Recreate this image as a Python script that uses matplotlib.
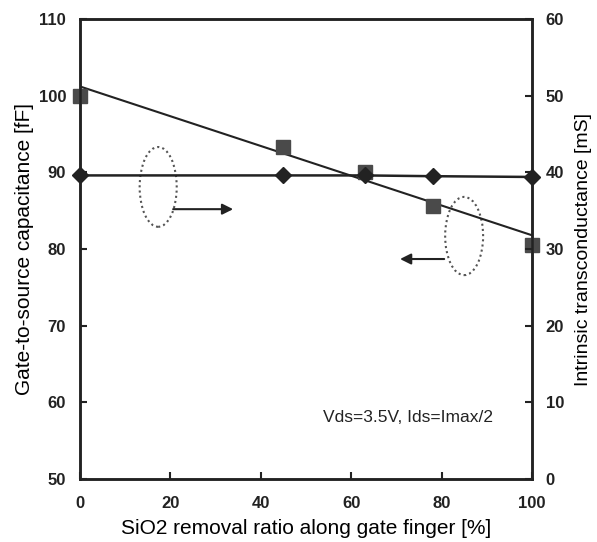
import numpy as np
import matplotlib
matplotlib.use("Agg")
import matplotlib.pyplot as plt
from matplotlib.patches import Ellipse

plt.rcParams['font.family'] = ['Liberation Sans', 'DejaVu Sans']

# data
removal = [0, 45, 63, 78, 100]          # SiO2 removal ratio [%]
cgs = [100.0, 93.3, 90.0, 85.6, 80.5]   # gate-to-source capacitance [fF]
gm = [39.6, 39.6, 39.6, 39.5, 39.4]     # intrinsic transconductance [mS]
fit_x = [0, 100]
fit_cgs = [101.2, 81.8]
x_ticks = [0, 20, 40, 60, 80, 100]

fig = plt.figure(figsize=(5.97, 5.42), dpi=100)
ax = fig.add_axes([0.134, 0.116, 0.757, 0.849])
ax2 = ax.twinx()

ax.plot(fit_x, fit_cgs, color='#222222', lw=1.5, zorder=3)
ax.plot(removal, cgs, ls='none', marker='s', ms=9.5, color='#4a4a4a', zorder=4, clip_on=False)
ax2.plot(removal, gm, color='#222222', lw=1.8, marker='D', ms=8, mfc='#222222', mec='#222222', zorder=4, clip_on=False)

ax.set_xlim(0, 100)
ax.set_ylim(50, 110)
ax2.set_ylim(0, 60)
ax.set_xticks(x_ticks)
ax.set_yticks(np.arange(50, 111, 10))
ax2.set_yticks(np.arange(0, 61, 10))

for a in (ax, ax2):
    for s in a.spines.values():
        s.set_linewidth(1.8)
        s.set_color('#222222')
ax.tick_params(axis='x', direction='in', length=5, width=1.5, labelsize=12, pad=12, colors='#222222')
ax.tick_params(axis='y', direction='in', length=5, width=1.5, labelsize=12, pad=10, colors='#222222')
ax2.tick_params(axis='y', direction='in', length=5, width=1.5, labelsize=12, pad=10, colors='#222222')
for lab in ax.get_xticklabels() + ax.get_yticklabels() + ax2.get_yticklabels():
    lab.set_fontweight('bold')

ax.set_xlabel('SiO2 removal ratio along gate finger [%]', fontsize=15, labelpad=6)
ax.set_ylabel('Gate-to-source capacitance [fF]', fontsize=15, labelpad=3)
ax2.set_ylabel('Intrinsic transconductance [mS]', fontsize=14, labelpad=8)

# dotted ellipses with arrows
ax.add_patch(Ellipse((17.3, 88.1), 8.2, 10.4, fill=False, ls=(0, (1, 1.5)), lw=1.5, color='#555555'))
ax.annotate('', xy=(34.5, 85.2), xytext=(20.0, 85.2),
            arrowprops=dict(arrowstyle='-|>', color='#222222', lw=1.5, mutation_scale=16))
ax.add_patch(Ellipse((85.0, 81.7), 8.4, 10.2, fill=False, ls=(0, (1, 1.5)), lw=1.5, color='#555555'))
ax.annotate('', xy=(70.2, 78.7), xytext=(81.2, 78.7),
            arrowprops=dict(arrowstyle='-|>', color='#222222', lw=1.5, mutation_scale=16))

ax.text(53.8, 57.4, 'Vds=3.5V, Ids=Imax/2', fontsize=12.5, color='#222222')

fig.savefig('out.png', dpi=100)
